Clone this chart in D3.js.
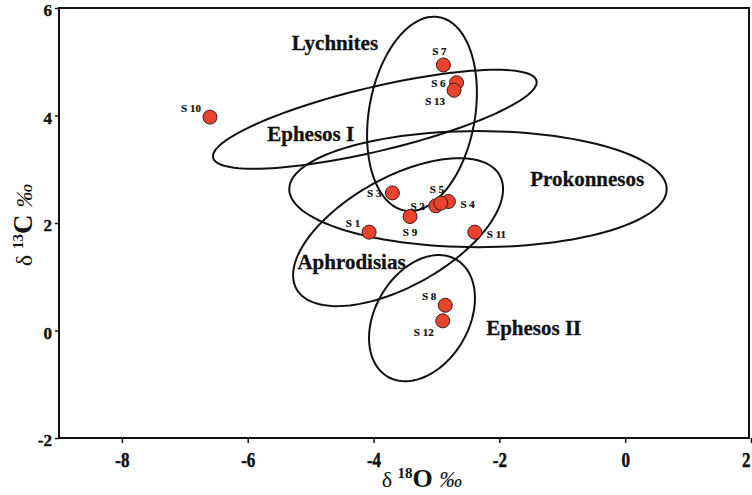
<!DOCTYPE html>
<html>
<head>
<meta charset="utf-8">
<script src="https://cdn.jsdelivr.net/npm/d3@7"></script>
<style>
  html, body { margin: 0; padding: 0; background: #fff; }
  svg { display: block; }
</style>
</head>
<body>
<script>
// ---------- data ----------
const sampleNames = ["S 1","S 2","S 3","S 4","S 5","S 6","S 7","S 8","S 9","S 10","S 11","S 12","S 13"];
const d18O = [-4.07,-3.01,-3.70,-2.81,-2.93,-2.68,-2.89,-2.86,-3.42,-6.60,-2.39,-2.90,-2.72];
const d13C = [1.83,2.32,2.56,2.40,2.37,4.61,4.94,0.47,2.12,3.97,1.83,0.18,4.47];
const labelSide = ["nw","w","w","e","n","w","n","nw","s","nw","e","sw","sw"];

const xTicks = [-8,-6,-4,-2,0,2];
const yTicks = [-2,0,2,4,6];

// marble-source fields: centre and two conjugate semi-axis vectors, in ‰ units
const fieldNames = ["Lychnites","Ephesos I","Prokonnesos","Aphrodisias","Ephesos II"];
const fieldCentre = [[-3.23,4.03],[-3.98,3.93],[-2.34,2.63],[-3.61,1.83],[-3.23,0.23]];
const fieldAxisU  = [[0.27,1.80],[2.57,0.716],[3.00,0.0],[1.615,1.057],[0.548,1.087]];
const fieldAxisV  = [[0.83,-0.17],[-0.118,0.579],[0.0,1.08],[0.421,-0.882],[0.639,-0.443]];
const fieldLabelAt = [[-5.30,5.22],[-5.69,3.53],[-1.51,2.69],[-5.21,1.14],[-2.21,-0.08]];

// ---------- layout ----------
const W = 752, H = 495;
const x = d3.scaleLinear().domain([-9, 2]).range([59, 751]);
const y = d3.scaleLinear().domain([-2, 6]).range([438, 8]);
const serif = "'Liberation Serif','Times New Roman',serif";

const svg = d3.select("body").append("svg").attr("width", W).attr("height", H);

// frame
svg.append("rect")
  .attr("x", x(-9)).attr("y", y(6))
  .attr("width", 749 - x(-9)).attr("height", y(-2) - y(6))
  .attr("fill", "none").attr("stroke", "#111").attr("stroke-width", 2);

// axes
const xAxis = svg.append("g").attr("transform", `translate(0,${y(-2)})`)
  .call(d3.axisBottom(x).tickValues(xTicks).tickSize(5).tickSizeOuter(0).tickFormat(d => String(d)));
xAxis.select(".domain").remove();
xAxis.selectAll(".tick line").attr("stroke", "#111").attr("stroke-width", 1.5);
xAxis.selectAll(".tick text")
  .attr("font-family", serif).attr("font-weight", "bold").attr("font-size", 17)
  .attr("fill", "#111").attr("stroke", "#111").attr("stroke-width", 0.4)
  .attr("y", 0).attr("dy", 0)
  .attr("text-anchor", d => d === 2 ? "end" : "middle")
  .attr("transform", d => d === 2 ? "translate(-1,29) scale(1,1.25)" : "translate(0,29) scale(1,1.25)");

const yAxis = svg.append("g").attr("transform", `translate(${x(-9)},0)`)
  .call(d3.axisLeft(y).tickValues(yTicks).tickSize(4).tickSizeOuter(0).tickFormat(d => String(d)));
yAxis.select(".domain").remove();
yAxis.selectAll(".tick line").attr("stroke", "#111").attr("stroke-width", 1.5);
yAxis.selectAll(".tick text")
  .attr("font-family", serif).attr("font-weight", "bold").attr("font-size", 17)
  .attr("fill", "#111").attr("stroke", "#111").attr("stroke-width", 0.4)
  .attr("x", -7).attr("dy", "0.45em");

// axis titles
const xt = svg.append("text").attr("x", 422).attr("y", 487)
  .attr("text-anchor", "middle").attr("font-family", serif).attr("fill", "#111");
xt.append("tspan").attr("font-size", 22).text("δ ");
xt.append("tspan").attr("font-size", 15).attr("font-weight", "bold").attr("dy", -9).text("18");
xt.append("tspan").attr("font-size", 26).attr("font-weight", "bold").attr("dy", 9).text("O ");
xt.append("tspan").attr("font-size", 23).attr("font-style", "italic").text("‰");

const yt = svg.append("text").attr("transform", "translate(32,225) rotate(-90)")
  .attr("text-anchor", "middle").attr("font-family", serif).attr("fill", "#111");
yt.append("tspan").attr("font-size", 24).text("δ ");
yt.append("tspan").attr("font-size", 15).attr("font-weight", "bold").attr("dy", -9).text("13");
yt.append("tspan").attr("font-size", 27).attr("font-weight", "bold").attr("dy", 9).text("C ");
yt.append("tspan").attr("font-size", 24).attr("font-style", "italic").text("‰");

// ellipses
const ts = d3.range(0, 360, 3).map(d => d * Math.PI / 180);
const line = d3.line().x(d => x(d[0])).y(d => y(d[1])).curve(d3.curveLinearClosed);
fieldNames.forEach((name, i) => {
  const c = fieldCentre[i], u = fieldAxisU[i], v = fieldAxisV[i];
  const pts = ts.map(t => [c[0] + u[0]*Math.cos(t) + v[0]*Math.sin(t),
                           c[1] + u[1]*Math.cos(t) + v[1]*Math.sin(t)]);
  svg.append("path").attr("d", line(pts))
    .attr("fill", "none").attr("stroke", "#111").attr("stroke-width", 2);
});

// field labels
fieldNames.forEach((name, i) => {
  svg.append("text").attr("x", x(fieldLabelAt[i][0])).attr("y", y(fieldLabelAt[i][1]))
    .attr("font-family", serif).attr("font-weight", "bold").attr("font-size", 21)
    .attr("fill", "#111").attr("stroke", "#111").attr("stroke-width", 0.3).text(name);
});

// points
const pts = sampleNames.map((n, i) => ({ name: n, x: d18O[i], y: d13C[i], side: labelSide[i] }));
svg.append("g").selectAll("circle").data(pts).join("circle")
  .attr("cx", d => x(d.x)).attr("cy", d => y(d.y)).attr("r", 7)
  .attr("fill", "#e8432d").attr("stroke", "#3a1a14").attr("stroke-width", 1);

const place = {
  n:  { dx: -4,  dy: -10, anchor: "middle" },
  s:  { dx: 0,   dy: 19,  anchor: "middle" },
  w:  { dx: -11, dy: 4,   anchor: "end" },
  e:  { dx: 12,  dy: 6,   anchor: "start" },
  nw: { dx: -9,  dy: -5,  anchor: "end" },
  sw: { dx: -9,  dy: 15,  anchor: "end" }
};
svg.append("g").selectAll("text").data(pts).join("text")
  .attr("x", d => x(d.x) + place[d.side].dx)
  .attr("y", d => y(d.y) + place[d.side].dy)
  .attr("text-anchor", d => place[d.side].anchor)
  .attr("font-family", serif).attr("font-weight", "bold").attr("font-size", 11)
  .attr("fill", "#111").attr("stroke", "#111").attr("stroke-width", 0.2)
  .text(d => d.name);
</script>
</body>
</html>
